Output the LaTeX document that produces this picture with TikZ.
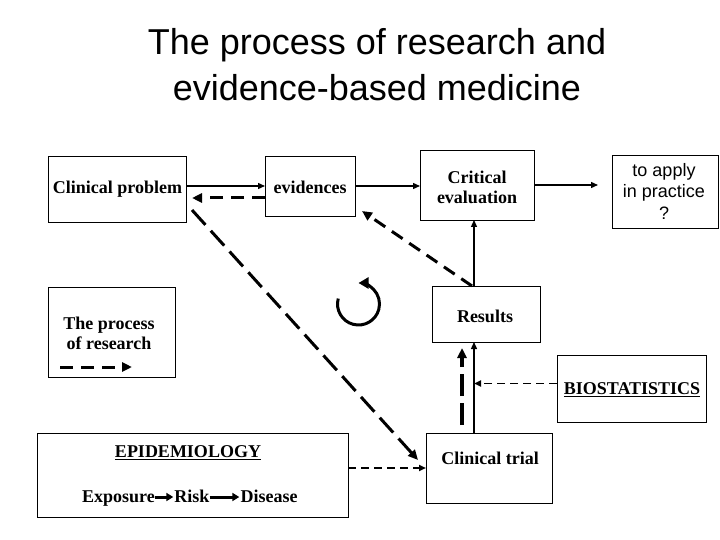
\documentclass[tikz,border=0pt]{standalone}
\usepackage{fontspec}
\setmainfont{Liberation Serif}
\newfontfamily\arialfont{Liberation Sans}
\usetikzlibrary{arrows.meta}
\begin{document}
\begin{tikzpicture}[x=1pt,y=-1pt,
  box/.style={draw, line width=0.9pt, inner sep=0pt, outer sep=0pt, fill=white},
  txt/.style={font=\fontsize{18}{20}\selectfont\bfseries, align=center, inner sep=0pt},
  atxt/.style={font=\fontsize{18}{21.5}\selectfont\arialfont, align=center, inner sep=0pt},
  ttl/.style={font=\fontsize{36}{43}\selectfont\arialfont, inner sep=0pt},
  thinarrow/.style={line width=1.3pt, -{Triangle[length=7pt,width=6pt]}},
  thickdash/.style={line width=3pt, dash pattern=on 13pt off 8pt, -{Triangle[length=10pt,width=9pt]}},
  longdash/.style={line width=3pt, dash pattern=on 20pt off 8pt, -{Triangle[length=10pt,width=9pt]}},
  thindash/.style={line width=1.8pt, dash pattern=on 8pt off 5pt, -{Triangle[length=7pt,width=6pt]}},
  fatarrow/.style={line width=3pt, -{Triangle[length=7pt,width=8pt]}, shorten >=1pt}
]
\useasboundingbox (0,0) rectangle (720,540);
\fill[white] (0,0) rectangle (720,540);

% title
\node[ttl] (t1) at (377,45) {The process of research and};
\node[ttl] (t2) at (377,88) {evidence-based medicine};

% boxes
\node[box, minimum width=138pt, minimum height=66pt] (cp) at (117,189) {};
\node[box, minimum width=90pt, minimum height=60pt] (ev) at (310,186) {};
\node[box, minimum width=114pt, minimum height=70pt] (ce) at (477,185) {};
\node[box, minimum width=106pt, minimum height=73pt] (ap) at (665,191.5) {};
\node[box, minimum width=108pt, minimum height=56pt] (res) at (486,314) {};
\node[box, minimum width=127pt, minimum height=90pt] (pr) at (111.5,332) {};
\node[box, minimum width=149pt, minimum height=67pt] (bio) at (631.5,388.5) {};
\node[box, minimum width=126pt, minimum height=70pt] (ct) at (489,468) {};
\node[box, minimum width=311pt, minimum height=84pt] (epi) at (192.5,475) {};

% texts
\node[txt] (cpt) at (117.5,189) {Clinical problem};
\node[txt] (evt) at (310,187) {evidences};
\node[txt] (cet) at (477,187) {Critical\\evaluation};
\node[atxt] (apt) at (664,191) {to apply\\in practice\\?};
\node[txt] (rest) at (485,316) {Results};
\node[txt] (prt) at (109,333) {The process\\of research};
\node[txt] (biot) at (632,390) {\underline{BIOSTATISTICS}};
\node[txt] (ctt) at (490,458) {Clinical trial};
\node[txt] (epit) at (188,453) {\underline{EPIDEMIOLOGY}};
\node[txt, anchor=base] (exp) at (118.5,502) {Exposure};
\node[txt, anchor=base] (risk) at (192,502) {Risk};
\node[txt, anchor=base] (dis) at (269,502) {Disease};

% helper coordinates
\coordinate (evb) at ([yshift=-12pt]ev.west);
\coordinate (cpr) at ([xshift=6pt]cp.east);
\coordinate (apl) at ([xshift=-14pt]ap.west);
\coordinate (rtop) at ([xshift=-12pt]res.north);
\coordinate (rtopl) at ([xshift=-14pt]res.north);
\coordinate (evse) at ([xshift=7pt,yshift=5pt]ev.south east);
\coordinate (cpse) at ([xshift=6pt,yshift=12pt]cp.south east);
\coordinate (ctnw) at ([xshift=-8pt,yshift=-27pt]ct.north west);
\coordinate (vl) at ([xshift=-15pt]ct.north);
\coordinate (vd) at ([xshift=-27pt,yshift=8pt]ct.north);
\coordinate (vdt) at ([xshift=-24pt,yshift=-6pt]res.south);
\coordinate (biow) at ([yshift=5pt]bio.west);
\coordinate (epie) at ([yshift=7pt]epi.east);
\coordinate (prs) at (60,367);
\coordinate (pre) at (132,367);
\coordinate (expe) at ([yshift=5pt]exp.base east);
\coordinate (riskw) at ([yshift=5pt]risk.base west);
\coordinate (riske) at ([yshift=5pt]risk.base east);
\coordinate (disw) at ([yshift=5pt]dis.base west);

% connectors
\draw[thinarrow] (cp.east |- ev.west) -- (ev.west);
\draw[thickdash] (evb) -- (cpr |- evb);
\draw[thinarrow] (ev.east) -- (ev.east -| ce.west);
\draw[thinarrow] (ce.east) -- (apl |- ce.east);
\draw[thinarrow] (rtop) -- (rtop |- ce.south);
\draw[thickdash] (rtopl) -- (evse);
\draw[longdash] (cpse) -- (ctnw);
\draw[thinarrow] (vl) -- (vl |- res.south);
\draw[line width=3.5pt, dash pattern=on 22pt off 7pt, -{Triangle[length=10pt,width=9pt]}] (vd) -- (vdt);
\draw[thindash] (biow) -- (biow -| vl);
\draw[thindash] (epie) -- (epie -| ct.west);
\draw[thickdash] (prs) -- (pre);
\draw[fatarrow] (expe) -- (riskw);
\draw[fatarrow] (riske) -- (disw);

% cycle arrow
\coordinate (cyc) at (358.5,304);
\draw[line width=3pt, -{Triangle[length=10pt,width=11pt]}] ([shift={(165:21pt)}]cyc) arc[start angle=165, end angle=450, radius=21pt];
\end{tikzpicture}
\end{document}
